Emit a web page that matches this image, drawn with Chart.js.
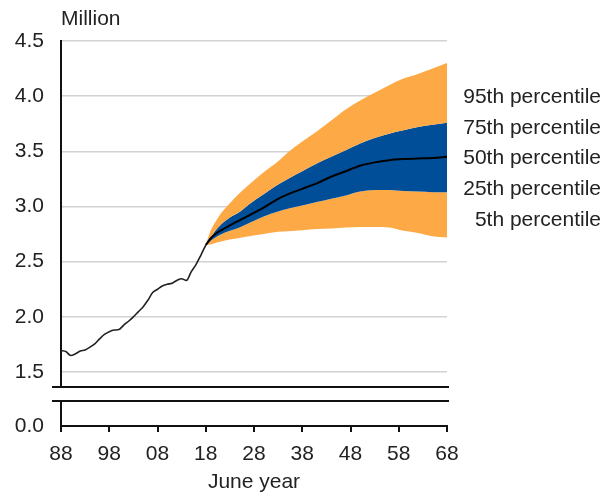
<!DOCTYPE html>
<html><head><meta charset="utf-8">
<script src="https://cdn.jsdelivr.net/npm/chart.js@4/dist/chart.umd.min.js"></script>
<style>
html,body{margin:0;padding:0;background:#fff;}
#wrap{position:relative;width:603px;height:495px;background:#fff;}
canvas{position:absolute;left:0;top:0;}
</style></head><body>
<div id="wrap"><canvas id="top" width="603" height="495"></canvas><canvas id="bot" width="603" height="495"></canvas></div>
<script>
// ---- data ----
const histYears = [1988,1989,1990,1991,1992,1993,1994,1995,1996,1997,1998,1999,2000,2001,2002,2003,2004,2005,2006,2007,2008,2009,2010,2011,2012,2013,2014,2015,2016,2017,2018];
const histValues = [1.695,1.685,1.65,1.665,1.69,1.70,1.725,1.755,1.80,1.84,1.865,1.88,1.885,1.925,1.96,2.00,2.045,2.09,2.15,2.22,2.25,2.28,2.295,2.305,2.33,2.345,2.33,2.41,2.475,2.56,2.65];

const fanYears = [2018,2019,2020,2021,2023,2025,2027,2030,2033,2035,2038,2041,2044,2047,2050,2053,2056,2059,2062,2065,2068];
const p95 = [2.65,2.78,2.86,2.93,3.03,3.12,3.20,3.31,3.41,3.49,3.59,3.68,3.78,3.88,3.96,4.03,4.10,4.16,4.20,4.25,4.30];
const p75 = [2.65,2.72,2.78,2.83,2.90,2.95,3.02,3.11,3.20,3.25,3.32,3.39,3.45,3.51,3.57,3.62,3.66,3.69,3.72,3.74,3.76];
const p50 = [2.65,2.71,2.75,2.78,2.83,2.875,2.92,2.99,3.07,3.11,3.16,3.21,3.27,3.32,3.37,3.40,3.42,3.43,3.435,3.44,3.45];
const p25 = [2.65,2.69,2.72,2.745,2.78,2.81,2.85,2.91,2.955,2.98,3.01,3.04,3.07,3.10,3.135,3.15,3.15,3.14,3.135,3.13,3.13];
const p5  = [2.65,2.655,2.67,2.68,2.70,2.715,2.73,2.75,2.77,2.775,2.785,2.795,2.80,2.81,2.815,2.815,2.81,2.78,2.76,2.73,2.72];

const yTicksTop = [1.5,2.0,2.5,3.0,3.5,4.0,4.5];
const yTicksBottom = [0];
const xTicks = [1988,1998,2008,2018,2028,2038,2048,2058,2068];
const bandLabels = ['95th percentile','75th percentile','50th percentile','25th percentile','5th percentile'];
const bandLabelValues = [3.99,3.71,3.44,3.16,2.88];
const unitLabel = 'Million';
const xTitle = 'June year';

// ---- styling ----
const ORANGE = 'rgb(253,170,70)';
const BLUE = 'rgb(0,78,152)';
const INK = '#222';
const FAMILY = "'Liberation Sans', Arial, sans-serif";
const FONT = {family: FAMILY, size: 21};
Chart.defaults.font.family = FAMILY;
Chart.defaults.color = INK;

const xy = (xs, ys) => xs.map((x, i) => ({x, y: ys[i]}));
const W = 603, H = 495;
const PLOT_RIGHT = 447, AXIS_W = 61;

const breakLine = (atTop) => ({
  id: 'breakLine' + (atTop ? 'T' : 'B'),
  afterDraw(chart) {
    const {ctx, chartArea: a} = chart;
    const y = atTop ? a.top : a.bottom;
    ctx.save();
    ctx.strokeStyle = '#111';
    ctx.lineWidth = 2;
    ctx.beginPath();
    ctx.moveTo(a.left - 9, y);
    ctx.lineTo(a.right + 2, y);
    ctx.stroke();
    ctx.restore();
  }
});

const textPlugin = {
  id: 'texts',
  afterDraw(chart) {
    const {ctx, chartArea: a, scales} = chart;
    ctx.save();
    ctx.font = `21px ${FAMILY}`;
    ctx.fillStyle = INK;
    ctx.textBaseline = 'middle';
    ctx.textAlign = 'right';
    bandLabels.forEach((t, i) => {
      ctx.fillText(t, W - 2, scales.y.getPixelForValue(bandLabelValues[i]));
    });
    ctx.textAlign = 'left';
    ctx.fillText(unitLabel, a.left, a.top - 22);
    ctx.restore();
  }
};

const line = (data, opts) => Object.assign({
  data, pointRadius: 0, borderWidth: 0, fill: false, tension: 0,
  cubicInterpolationMode: 'monotone', order: 2
}, opts);

new Chart(document.getElementById('top'), {
  type: 'line',
  data: {datasets: [
    line(xy(fanYears, p95), {fill: '+1', backgroundColor: ORANGE, borderColor: ORANGE}),
    line(xy(fanYears, p75), {fill: '+1', backgroundColor: BLUE, borderColor: BLUE}),
    line(xy(fanYears, p25), {fill: '+1', backgroundColor: ORANGE, borderColor: ORANGE}),
    line(xy(fanYears, p5), {borderColor: ORANGE}),
    line(xy(fanYears, p50), {borderColor: '#000', borderWidth: 2, order: 0}),
    line(xy(histYears, histValues), {borderColor: '#222', borderWidth: 1.6, order: 0})
  ]},
  options: {
    responsive: false, animation: false,
    layout: {padding: {top: 41, right: W - PLOT_RIGHT, bottom: H - 387, left: 0}},
    plugins: {legend: {display: false}, tooltip: {enabled: false}},
    scales: {
      x: {type: 'linear', min: 1988, max: 2068, display: false},
      y: {
        type: 'linear', min: 1.364, max: 4.5,
        afterFit: s => { s.width = AXIS_W; },
        afterBuildTicks: s => { s.ticks = yTicksTop.map(v => ({value: v})); },
        ticks: {padding: 17, font: FONT, color: INK, callback: v => Number(v).toFixed(1)},
        grid: {color: '#d2d2d2', lineWidth: 1.5, drawTicks: false},
        border: {color: '#111', width: 2}
      }
    }
  },
  plugins: [textPlugin, breakLine(false)]
});

new Chart(document.getElementById('bot'), {
  type: 'line',
  data: {datasets: [{data: [], pointRadius: 0}]},
  options: {
    responsive: false, animation: false,
    layout: {padding: {top: 401, right: W - PLOT_RIGHT, bottom: 0, left: 0}},
    plugins: {legend: {display: false}, tooltip: {enabled: false}},
    scales: {
      x: {
        type: 'linear', min: 1988, max: 2068,
        afterFit: s => { s.height = H - 426; },
        afterBuildTicks: s => { s.ticks = xTicks.map(v => ({value: v})); },
        ticks: {font: FONT, color: INK, padding: 10, maxRotation: 0, autoSkip: false,
                callback: v => String(Math.round(v) % 100).padStart(2, '0')},
        grid: {drawOnChartArea: false, drawTicks: true, tickLength: 6, color: '#111', lineWidth: 2},
        border: {color: '#111', width: 2},
        title: {display: true, text: xTitle, font: FONT, color: INK, padding: {top: 0, bottom: 0}}
      },
      y: {
        type: 'linear', min: 0, max: 1,
        afterFit: s => { s.width = AXIS_W; },
        afterBuildTicks: s => { s.ticks = yTicksBottom.map(v => ({value: v})); },
        ticks: {padding: 17, font: FONT, color: INK, callback: v => Number(v).toFixed(1)},
        grid: {drawOnChartArea: false, drawTicks: false},
        border: {color: '#111', width: 2}
      }
    }
  },
  plugins: [breakLine(true)]
});
</script>
</body></html>
